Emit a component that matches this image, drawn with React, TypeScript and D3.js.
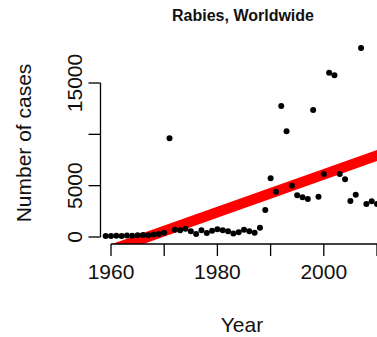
import React from "react";
import * as d3 from "d3";

// Reported rabies cases per year, worldwide
const years: number[] = [
  1959, 1960, 1961, 1962, 1963, 1964, 1965, 1966, 1967, 1968, 1969, 1970,
  1971, 1972, 1973, 1974, 1975, 1976, 1977, 1978, 1979, 1980, 1981, 1982,
  1983, 1984, 1985, 1986, 1987, 1988, 1989, 1990, 1991, 1992, 1993, 1994,
  1995, 1996, 1997, 1998, 1999, 2000, 2001, 2002, 2003, 2004, 2005, 2006,
  2007, 2008, 2009, 2010,
];
const cases: number[] = [
  100, 100, 120, 90, 150, 110, 160, 200, 180, 250, 300, 420,
  9610, 700, 650, 800, 550, 300, 650, 380, 600, 750, 650, 550,
  330, 470, 700, 550, 420, 900, 2630, 5720, 4410, 12760, 10300, 5000,
  4060, 3870, 3700, 12370, 3930, 6140, 16000, 15750, 6140, 5620, 3510, 4120,
  18410, 3210, 3480, 3210,
];

// Linear trend fitted to the series: cases = trendAt2010 + trendSlope * (year - 2010)
const trendSlope = 184;
const trendAt2010 = 7940;
const trendYears: number[] = [1955, 2025];

const xTicks: number[] = [1960, 1970, 1980, 1990, 2000, 2010];
const xLabels: number[] = [1960, 1980, 2000];
const yTicks: number[] = [0, 5000, 10000, 15000];
const yLabels: number[] = [0, 5000, 15000];

const W = 377;
const H = 337;
const font = "'Liberation Sans', Arial, Helvetica, sans-serif";

export default function App() {
  const x = d3.scaleLinear().domain([1960, 2000]).range([111, 323.8]);
  const y = d3.scaleLinear().domain([0, 15000]).range([237, 83]);

  const plotLeft = 100.5;
  const plotBottom = 244;
  const plotTop = 40;

  const line = d3
    .line<number>()
    .x((d) => x(d))
    .y((d) => y(trendAt2010 + trendSlope * (d - 2010)));

  const tickLen = 12;

  return (
    <svg
      width={W}
      height={H}
      style={{ position: "absolute", left: 0, top: 0, background: "#fff" }}
      fontFamily={font}
    >
      <defs>
        <clipPath id="plotArea">
          <rect x={plotLeft} y={plotTop} width={W} height={plotBottom - plotTop} />
        </clipPath>
      </defs>

      <text x={243} y={21} textAnchor="middle" fontSize={16} fontWeight="bold" fill="#111">
        Rabies, Worldwide
      </text>

      <g clipPath="url(#plotArea)">
        <path d={line(trendYears) || ""} stroke="#ff0000" strokeWidth={10.5} fill="none" />
      </g>
      <g>
        {years.map((yr, i) => (
          <circle key={yr} cx={x(yr)} cy={y(cases[i])} r={3} fill="#000" />
        ))}
      </g>

      {/* y axis */}
      <g stroke="#000" strokeWidth={1.3}>
        <line x1={plotLeft} x2={plotLeft} y1={y(0)} y2={y(15000)} />
        {yTicks.map((t) => (
          <line key={t} x1={plotLeft - tickLen} x2={plotLeft} y1={y(t)} y2={y(t)} />
        ))}
      </g>
      {yLabels.map((t) => (
        <text
          key={t}
          transform={`translate(82,${y(t)}) rotate(-90)`}
          textAnchor="middle"
          fontSize={21}
          fill="#111"
        >
          {t}
        </text>
      ))}

      {/* x axis */}
      <g stroke="#000" strokeWidth={1.3}>
        <line x1={x(1960)} x2={x(2020)} y1={plotBottom} y2={plotBottom} />
        {xTicks.map((t) => (
          <line key={t} x1={x(t)} x2={x(t)} y1={plotBottom} y2={plotBottom + tickLen} />
        ))}
      </g>
      {xLabels.map((t) => (
        <text key={t} x={x(t)} y={279} textAnchor="middle" fontSize={21} fill="#111">
          {t}
        </text>
      ))}

      <text x={242} y={332} textAnchor="middle" fontSize={21} fill="#111">
        Year
      </text>
      <text
        transform={`translate(31,143) rotate(-90)`}
        textAnchor="middle"
        fontSize={21}
        fill="#111"
      >
        Number of cases
      </text>
    </svg>
  );
}
